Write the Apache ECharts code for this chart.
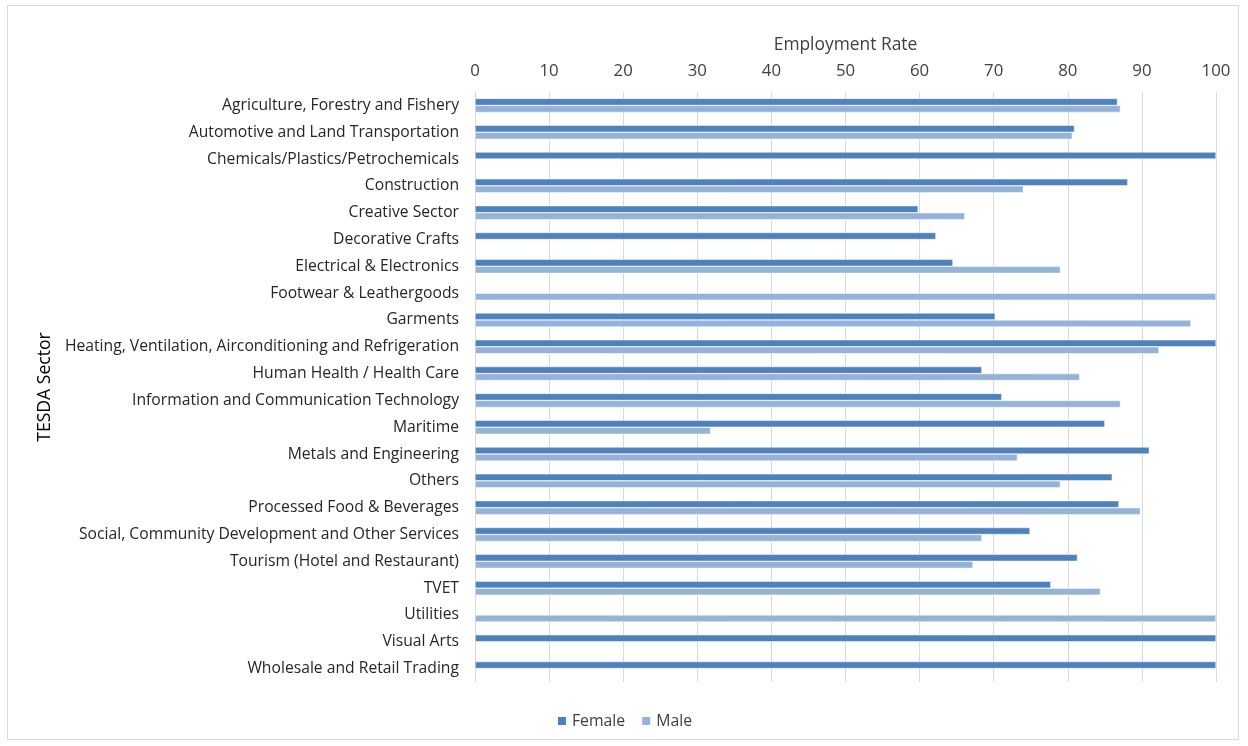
<!DOCTYPE html>
<html><head><meta charset="utf-8">
<script src="https://cdn.jsdelivr.net/npm/echarts@6/dist/echarts.min.js"></script>
<style>
html,body{margin:0;padding:0;background:#fff;}
#frame{position:absolute;left:7px;top:5px;width:1232px;height:735px;border:1px solid #D9D9D9;box-sizing:border-box;}
#chart{position:absolute;left:0;top:0;width:1248px;height:746px;}
</style></head>
<body>
<div id="frame"></div>
<div id="chart"></div>
<script>
var categories = [
  "Agriculture, Forestry and Fishery",
  "Automotive and Land Transportation",
  "Chemicals/Plastics/Petrochemicals",
  "Construction",
  "Creative Sector",
  "Decorative Crafts",
  "Electrical & Electronics",
  "Footwear & Leathergoods",
  "Garments",
  "Heating, Ventilation, Airconditioning and Refrigeration",
  "Human Health / Health Care",
  "Information and Communication Technology",
  "Maritime",
  "Metals and Engineering",
  "Others",
  "Processed Food & Beverages",
  "Social, Community Development and Other Services",
  "Tourism (Hotel and Restaurant)",
  "TVET",
  "Utilities",
  "Visual Arts",
  "Wholesale and Retail Trading"
];
var female = [86.7, 80.9, 100, 88.1, 59.8, 62.2, 64.5, null, 70.2, 100, 68.4, 71.1, 85.0, 91.0, 86.0, 86.9, 74.9, 81.3, 77.7, null, 100, 100];
var male   = [87.1, 80.6, null, 74.0, 66.1, null, 79.0, 100, 96.6, 92.3, 81.6, 87.1, 31.8, 73.2, 79.0, 89.8, 68.4, 67.2, 84.4, 100, null, null];
var xTicks = [0, 10, 20, 30, 40, 50, 60, 70, 80, 90, 100];

var font = "'Open Sans', 'Noto Sans', sans-serif";
var chart = echarts.init(document.getElementById('chart'));
chart.setOption({
  animation: false,
  textStyle: {fontFamily: font},
  grid: {left: 475, right: 32, top: 92, bottom: 64, containLabel: false},
  legend: {
    data: ['Female', 'Male'],
    bottom: 12, left: 'center',
    itemWidth: 10, itemHeight: 10, itemGap: 15,
    icon: 'rect',
    textStyle: {fontSize: 15.8, color: '#404040', fontFamily: font}
  },
  xAxis: {
    type: 'value', position: 'top',
    min: xTicks[0], max: xTicks[xTicks.length - 1], interval: 10,
    name: 'Employment Rate', nameLocation: 'middle', nameGap: 38,
    nameTextStyle: {fontSize: 17.4, color: '#404040', fontFamily: font},
    axisLine: {show: false}, axisTick: {show: false},
    axisLabel: {fontSize: 16.8, color: '#404040', margin: 12, fontFamily: font},
    splitLine: {show: true, lineStyle: {color: '#D9D9D9', width: 1}}
  },
  yAxis: {
    type: 'category', inverse: true, data: categories,
    name: 'TESDA Sector', nameLocation: 'middle', nameGap: 420, nameRotate: 90,
    nameTextStyle: {fontSize: 17.6, color: '#000', fontFamily: font},
    axisLine: {show: true, lineStyle: {color: '#D9D9D9'}},
    axisTick: {show: false},
    axisLabel: {fontSize: 15.7, color: '#262626', margin: 16, fontFamily: font}
  },
  series: [
    {name: 'Female', type: 'bar', data: female, barWidth: 7, barGap: '0%',
     itemStyle: {color: '#4F81BD', borderColor: '#fff', borderWidth: 0.5}},
    {name: 'Male', type: 'bar', data: male, barWidth: 7, barGap: '0%',
     itemStyle: {color: '#95B3D7', borderColor: '#fff', borderWidth: 0.5}}
  ]
});
</script>
</body></html>
